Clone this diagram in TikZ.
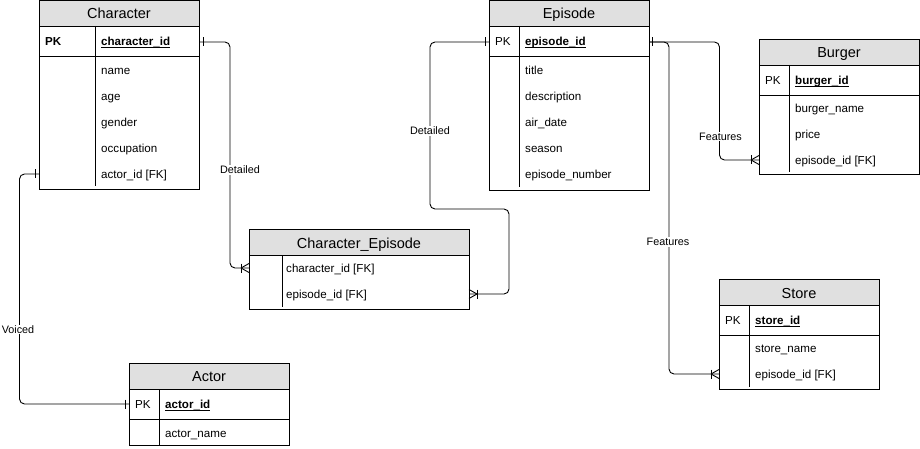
\documentclass[tikz,border=0pt]{standalone}
\usepackage{fontspec}
\setmainfont{Liberation Sans}
\definecolor{hdrgray}{RGB}{224,224,224}
\tikzset{
  tline/.style={draw=black, line width=0.9pt},
  hdrbox/.style={draw=black, fill=hdrgray, line width=0.9pt},
  ttl/.style={font=\fontsize{14.5}{17}\selectfont, anchor=base, inner sep=0pt},
  fld/.style={font=\fontsize{11.6}{14}\selectfont, anchor=base west, inner sep=0pt},
  lbl/.style={font=\fontsize{10.8}{13}\selectfont, fill=white, inner sep=1pt},
  conn/.style={draw=black, line width=0.9pt, rounded corners=5pt},
  ermark/.style={draw=black, line width=0.9pt},
}
\newlength{\pkwidth}
\newcommand{\pkf}[1]{\settowidth{\pkwidth}{\textbf{#1}}\rlap{\rule[-2pt]{\pkwidth}{0.8pt}}\textbf{#1}}
\begin{document}
\begin{tikzpicture}[x=1pt,y=-1pt]
\useasboundingbox (0,0) rectangle (920,449);

% ---------- Character ----------
\path[hdrbox] (39,0.5) rectangle (199,26);
\path[tline] (39,26) rectangle (199,189);
\draw[tline] (39,56) -- (199,56);
\draw[tline] (95.5,26) -- (95.5,186);
\node[ttl] (charT) at (119,18.5) {Character};
\node[fld] (charPK) at (45,46) {\textbf{PK}};
\node[fld] (charId) at (101,46) {\pkf{character\_id}};
\node[fld] (charName) at (101,74.5) {name};
\node[fld] (charAge) at (101,100.5) {age};
\node[fld] (charGender) at (101,126.5) {gender};
\node[fld] (charOcc) at (101,152.5) {occupation};
\node[fld] (charAct) at (101,178.5) {actor\_id [FK]};
\coordinate (charIdR) at (199,42);
\coordinate (charActL) at (39,174);

% ---------- Episode ----------
\path[hdrbox] (489,0.5) rectangle (649,26);
\path[tline] (489,26) rectangle (649,190);
\draw[tline] (489,56) -- (649,56);
\draw[tline] (519.5,26) -- (519.5,187);
\node[ttl] (epT) at (569,18.5) {Episode};
\node[fld] (epPK) at (495,46) {PK};
\node[fld] (epId) at (525,46) {\pkf{episode\_id}};
\node[fld] (epTitle) at (525,74.5) {title};
\node[fld] (epDesc) at (525,100.5) {description};
\node[fld] (epAir) at (525,126.5) {air\_date};
\node[fld] (epSeason) at (525,152.5) {season};
\node[fld] (epNum) at (525,178.5) {episode\_number};
\coordinate (epIdL) at (489,42);
\coordinate (epIdR) at (649,42);

% ---------- Burger ----------
\path[hdrbox] (759,39) rectangle (919,65);
\path[tline] (759,65) rectangle (919,174);
\draw[tline] (759,95) -- (919,95);
\draw[tline] (789.5,65) -- (789.5,172);
\node[ttl] (burT) at (839,57.5) {Burger};
\node[fld] (burPK) at (765,84.5) {PK};
\node[fld] (burId) at (795,84.5) {\pkf{burger\_id}};
\node[fld] (burName) at (795,112.5) {burger\_name};
\node[fld] (burPrice) at (795,138.5) {price};
\node[fld] (burEp) at (795,164.5) {episode\_id [FK]};
\coordinate (burEpL) at (759,160);

% ---------- Character_Episode ----------
\path[hdrbox] (249,229.5) rectangle (469,255.5);
\path[tline] (249,255.5) rectangle (469,309);
\draw[tline] (282,255.5) -- (282,307);
\node[ttl] (ceT) at (359,248) {Character\_Episode};
\node[fld] (ceChar) at (286,272.5) {character\_id [FK]};
\node[fld] (ceEp) at (286,298.5) {episode\_id [FK]};
\coordinate (ceCharL) at (249,268);
\coordinate (ceEpR) at (469,294);

% ---------- Store ----------
\path[hdrbox] (719,279.5) rectangle (879,305.5);
\path[tline] (719,305.5) rectangle (879,389);
\draw[tline] (719,335.5) -- (879,335.5);
\draw[tline] (749.5,305.5) -- (749.5,387);
\node[ttl] (stT) at (799,298) {Store};
\node[fld] (stPK) at (725,324.5) {PK};
\node[fld] (stId) at (755,324.5) {\pkf{store\_id}};
\node[fld] (stName) at (755,352.5) {store\_name};
\node[fld] (stEp) at (755,378.5) {episode\_id [FK]};
\coordinate (stEpL) at (719,374);

% ---------- Actor ----------
\path[hdrbox] (129,363) rectangle (289,389);
\path[tline] (129,389) rectangle (289,445);
\draw[tline] (129,419) -- (289,419);
\draw[tline] (159.5,389) -- (159.5,445);
\node[ttl] (acT) at (209,381.5) {Actor};
\node[fld] (acPK) at (135,408.5) {PK};
\node[fld] (acId) at (165,408.5) {\pkf{actor\_id}};
\node[fld] (acName) at (165,437.5) {actor\_name};
\coordinate (acIdL) at (129,404);

% ---------- Connectors ----------
% Character -> Character_Episode
\draw[conn] (charIdR) -- (230,42) -- (230,268) -- (ceCharL);
\draw[ermark] ([xshift=4pt]charIdR) ++(0,-4.5) -- ++(0,9);
\draw[ermark] ([xshift=-8pt]ceCharL) ++(0,-4.5) -- ++(0,9);
\draw[ermark] ([xshift=-8pt]ceCharL) -- ([yshift=-4.5pt]ceCharL) ([xshift=-8pt]ceCharL) -- ([yshift=4.5pt]ceCharL);
\node[lbl] (lblD1) at (240,170) {Detailed};

% Episode -> Character_Episode
\draw[conn] (epIdL) -- (430,42) -- (430,209) -- (509,209) -- (509,294) -- (ceEpR);
\draw[ermark] ([xshift=-3.5pt]epIdL) ++(0,-4.5) -- ++(0,9);
\draw[ermark] ([xshift=8pt]ceEpR) ++(0,-4.5) -- ++(0,9);
\draw[ermark] ([xshift=8pt]ceEpR) -- ([yshift=-4.5pt]ceEpR) ([xshift=8pt]ceEpR) -- ([yshift=4.5pt]ceEpR);
\node[lbl] (lblD2) at (430,131) {Detailed};

% Episode -> Burger
\draw[conn] (epIdR) -- (719.5,42) -- (719.5,160) -- (burEpL);
\draw[ermark] ([xshift=-8pt]burEpL) ++(0,-4.5) -- ++(0,9);
\draw[ermark] ([xshift=-8pt]burEpL) -- ([yshift=-4.5pt]burEpL) ([xshift=-8pt]burEpL) -- ([yshift=4.5pt]burEpL);
\node[lbl] (lblF1) at (720.5,136.5) {Features};

% Episode -> Store
\draw[conn] (epIdR) -- (669,42) -- (669,374) -- (stEpL);
\draw[ermark] ([xshift=3.5pt]epIdR) ++(0,-4.5) -- ++(0,9);
\draw[ermark] ([xshift=-8pt]stEpL) ++(0,-4.5) -- ++(0,9);
\draw[ermark] ([xshift=-8pt]stEpL) -- ([yshift=-4.5pt]stEpL) ([xshift=-8pt]stEpL) -- ([yshift=4.5pt]stEpL);
\node[lbl] (lblF2) at (668,242) {Features};

% Character -> Actor
\draw[conn] (charActL) -- (19.5,174) -- (19.5,404) -- (acIdL);
\draw[ermark] ([xshift=-4pt]charActL) ++(0,-4.5) -- ++(0,9);
\draw[ermark] ([xshift=-4pt]acIdL) ++(0,-4.5) -- ++(0,9);
\node[lbl] (lblV) at (18,329.5) {Voiced};
\end{tikzpicture}
\end{document}
